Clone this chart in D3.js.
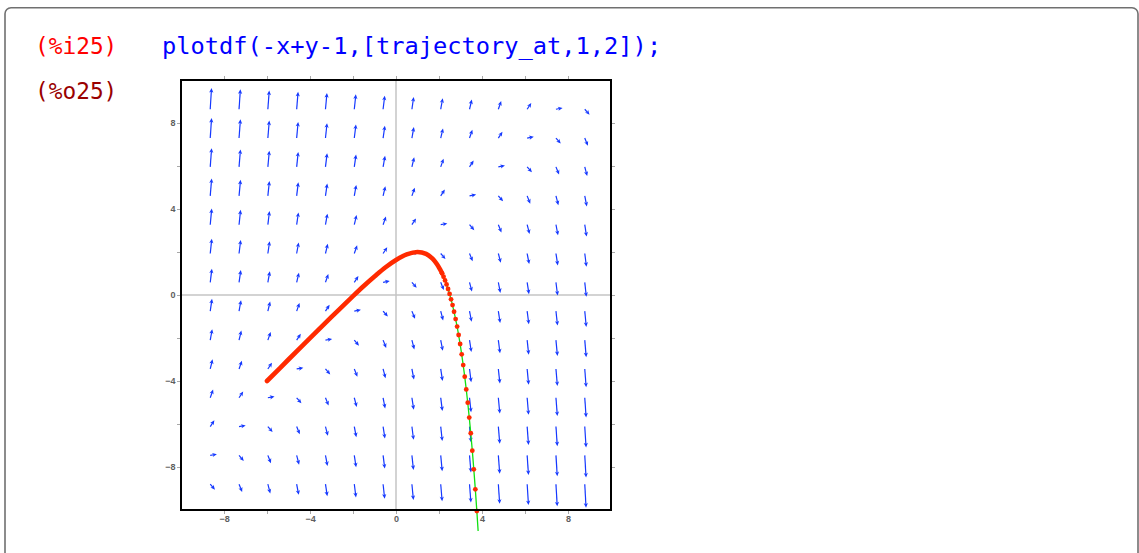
<!DOCTYPE html>
<html>
<head>
<meta charset="utf-8">
<script src="https://cdn.jsdelivr.net/npm/d3@7"></script>
<style>
  html, body { margin: 0; padding: 0; background: #ffffff; }
  svg { display: block; }
</style>
</head>
<body>
<svg id="chart" width="1139" height="553"></svg>
<script>
// ---------------- data ----------------
const inputLabel = "(%i25)";
const inputCode = "plotdf(-x+y-1,[trajectory_at,1,2]);";
const outputLabel = "(%o25)";

const xDomain = [-10, 10];
const yDomain = [-10, 10];
const labelTicks = [-8, -4, 0, 4, 8];
const allTicks = [-8, -6, -4, -2, 0, 2, 4, 6, 8];

// direction-field grid (arrow start points)
const gridX = [-8.64, -7.30, -5.96, -4.62, -3.28, -1.94, -0.60, 0.74, 2.08, 3.42, 4.76, 6.10, 7.44, 8.78];
const gridY = [8.64, 7.30, 5.96, 4.61, 3.27, 1.93, 0.59, -0.75, -2.10, -3.44, -4.78, -6.12, -7.46, -8.80];

// the plotted equation dy/dx = -x + y - 1
const coefX = -1, coefY = 1, coefC = -1;

// trajectory through (1,2): dense (merged) part
const trajDenseX = [-6, -5, -4, -3, -2, -1.5, -1, -0.5, 0, 0.5, 1, 1.4, 1.7, 1.9, 2.05, 2.142];
const trajDenseY = [-4.0, -3.0, -2.01, -1.02, -0.05, 0.42, 0.86, 1.28, 1.63, 1.89, 2.0, 1.91, 1.69, 1.44, 1.19, 1.01];
// separated integration points
const trajDotX = [2.142, 2.212, 2.282, 2.352, 2.422, 2.492, 2.56, 2.63, 2.70, 2.773, 2.843, 2.913, 2.983, 3.056, 3.126, 3.197, 3.267, 3.337, 3.407, 3.478, 3.549, 3.619, 3.690, 3.760];
const trajDotY = [1.01, 0.85, 0.68, 0.49, 0.28, 0.05, -0.20, -0.47, -0.78, -1.12, -1.47, -1.86, -2.28, -2.76, -3.26, -3.80, -4.39, -5.01, -5.70, -6.43, -7.24, -8.11, -9.04, -10.05];
// last segment of the (green) joining line, leaving the frame
const trajTailX = [3.82];
const trajTailY = [-10.98];

// ---------------- drawing ----------------
const svg = d3.select("#chart");

// outer cell frame
svg.append("rect")
  .attr("x", 5).attr("y", 7.8)
  .attr("width", 1133).attr("height", 600)
  .attr("rx", 6).attr("ry", 6)
  .attr("fill", "none")
  .attr("stroke", "#707070")
  .attr("stroke-width", 1.6);

const mono = "'DejaVu Sans Mono', 'Liberation Mono', monospace";
svg.append("text").attr("x", 35).attr("y", 54)
  .attr("font-family", mono).attr("font-size", 22.8)
  .attr("fill", "#ff0000").text(inputLabel);
svg.append("text").attr("x", 162).attr("y", 54)
  .attr("font-family", mono).attr("font-size", 23.7)
  .attr("fill", "#0000ff").text(inputCode);
svg.append("text").attr("x", 35).attr("y", 99)
  .attr("font-family", mono).attr("font-size", 22.8)
  .attr("fill", "#990000").text(outputLabel);

const x = d3.scaleLinear().domain(xDomain).range([181, 611]);
const y = d3.scaleLinear().domain(yDomain).range([510, 80]);

// tick axes
function styleAxis(g) {
  g.select(".domain").remove();
  g.selectAll(".tick line").attr("stroke", "#a8a8a8").attr("stroke-width", 1);
  g.selectAll(".tick text")
    .attr("font-family", "'Liberation Sans', Arial, sans-serif")
    .attr("font-size", 9).attr("font-weight", "bold").attr("fill", "#5e5e5e");
}
const fmt = d3.format("d");
const labelFmt = d => labelTicks.includes(d) ? fmt(d) : "";

svg.append("g").attr("transform", `translate(0,${y(-10) + 1})`)
  .call(d3.axisBottom(x).tickValues(allTicks).tickSize(3).tickPadding(2).tickFormat(labelFmt))
  .call(styleAxis);
svg.append("g").attr("transform", `translate(${x(-10) - 1},0)`)
  .call(d3.axisLeft(y).tickValues(allTicks).tickSize(3).tickPadding(1.5).tickFormat(labelFmt))
  .call(styleAxis);
svg.append("g").attr("transform", `translate(0,${y(10) - 1})`)
  .call(d3.axisTop(x).tickValues(allTicks).tickSize(3).tickFormat(""))
  .call(styleAxis);
svg.append("g").attr("transform", `translate(${x(10) + 1},0)`)
  .call(d3.axisRight(y).tickValues(allTicks).tickSize(3).tickFormat(""))
  .call(styleAxis);

// zero axes
svg.append("line").attr("x1", x(0)).attr("x2", x(0)).attr("y1", y(10)).attr("y2", y(-10))
  .attr("stroke", "#c4c4c4").attr("stroke-width", 1.5);
svg.append("line").attr("x1", x(-10)).attr("x2", x(10)).attr("y1", y(0)).attr("y2", y(0))
  .attr("stroke", "#c4c4c4").attr("stroke-width", 1.5);

// direction field
const cells = [];
gridX.forEach(gx => gridY.forEach(gy => cells.push({ gx, gy })));
const ux = x(1) - x(0), uy = y(1) - y(0);
const arrowColor = "#1438ff";
const fieldG = svg.append("g");
cells.forEach(c => {
  const s = coefX * c.gx + coefY * c.gy + coefC;
  const vx = ux, vy = s * Math.abs(ux) * Math.sign(uy);
  const mag = Math.sqrt(1 + s * s);
  const n = Math.hypot(vx, vy);
  const dx = vx / n, dy = vy / n;
  const len = 5.8 + 0.95 * mag;
  const x0 = x(c.gx), y0 = y(c.gy);
  const x1 = x0 + dx * len, y1 = y0 + dy * len;
  const hl = 4.6, hw = 2.1;
  const bx = x1 - dx * hl, by = y1 - dy * hl;
  fieldG.append("line")
    .attr("x1", x0).attr("y1", y0).attr("x2", bx + dx * 1.5).attr("y2", by + dy * 1.5)
    .attr("stroke", arrowColor).attr("stroke-width", 1.2);
  fieldG.append("path")
    .attr("d", `M${x1},${y1}L${bx - dy * hw},${by + dx * hw}L${bx + dx * 1.2},${by + dy * 1.2}L${bx + dy * hw},${by - dx * hw}Z`)
    .attr("fill", arrowColor);
});

// trajectory
const red = "#ff2a00";
const greenPts = trajDenseX.map((v, i) => [v, trajDenseY[i]])
  .concat(trajDotX.map((v, i) => [v, trajDotY[i]]))
  .concat(trajTailX.map((v, i) => [v, trajTailY[i]]));
const lineGen = d3.line().x(d => x(d[0])).y(d => y(d[1]));
svg.append("path").attr("d", lineGen(greenPts))
  .attr("fill", "none").attr("stroke", "#10e010").attr("stroke-width", 1.3);

const densePts = trajDenseX.map((v, i) => [v, trajDenseY[i]]);
svg.append("path").attr("d", lineGen.curve(d3.curveCatmullRom)(densePts))
  .attr("fill", "none").attr("stroke", red).attr("stroke-width", 4.6)
  .attr("stroke-linecap", "round").attr("stroke-linejoin", "round");

svg.append("g").selectAll("circle")
  .data(trajDotX.map((v, i) => [v, trajDotY[i]]))
  .join("circle")
  .attr("cx", d => x(d[0])).attr("cy", d => y(d[1]))
  .attr("r", 2.4).attr("fill", red);

// plot frame
svg.append("rect")
  .attr("x", x(-10)).attr("y", y(10))
  .attr("width", x(10) - x(-10)).attr("height", y(-10) - y(10))
  .attr("fill", "none").attr("stroke", "#000").attr("stroke-width", 2);
</script>
</body>
</html>
